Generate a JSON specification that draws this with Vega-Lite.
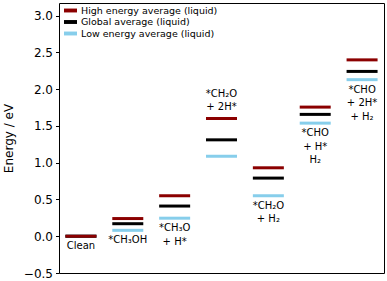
{
  "$schema": "https://vega.github.io/schema/vega-lite/v6.json",
  "autosize": "none",
  "width": 325,
  "height": 270,
  "padding": {"left": 59, "top": 3, "right": 3, "bottom": 8},
  "config": {
    "font": "DejaVu Sans",
    "view": {"stroke": "#000", "strokeWidth": 1},
    "axis": {"labelColor": "#000", "titleColor": "#000", "tickColor": "#000", "grid": false}
  },
  "datasets": {
    "levels": [
      {"step": "Clean", "series": "Low energy average (liquid)", "energy": 0.0},
      {"step": "Clean", "series": "Global average (liquid)", "energy": 0.0},
      {"step": "Clean", "series": "High energy average (liquid)", "energy": 0.0},
      {"step": "CH3OH", "series": "Low energy average (liquid)", "energy": 0.08},
      {"step": "CH3OH", "series": "Global average (liquid)", "energy": 0.17},
      {"step": "CH3OH", "series": "High energy average (liquid)", "energy": 0.24},
      {"step": "CH3O+H", "series": "Low energy average (liquid)", "energy": 0.245},
      {"step": "CH3O+H", "series": "Global average (liquid)", "energy": 0.41},
      {"step": "CH3O+H", "series": "High energy average (liquid)", "energy": 0.55},
      {"step": "CH2O+2H", "series": "Low energy average (liquid)", "energy": 1.087},
      {"step": "CH2O+2H", "series": "Global average (liquid)", "energy": 1.31},
      {"step": "CH2O+2H", "series": "High energy average (liquid)", "energy": 1.6},
      {"step": "CH2O+H2", "series": "Low energy average (liquid)", "energy": 0.55},
      {"step": "CH2O+H2", "series": "Global average (liquid)", "energy": 0.79},
      {"step": "CH2O+H2", "series": "High energy average (liquid)", "energy": 0.93},
      {"step": "CHO+H+H2", "series": "Low energy average (liquid)", "energy": 1.537},
      {"step": "CHO+H+H2", "series": "Global average (liquid)", "energy": 1.656},
      {"step": "CHO+H+H2", "series": "High energy average (liquid)", "energy": 1.755},
      {"step": "CHO+2H+H2", "series": "Low energy average (liquid)", "energy": 2.128},
      {"step": "CHO+2H+H2", "series": "Global average (liquid)", "energy": 2.24},
      {"step": "CHO+2H+H2", "series": "High energy average (liquid)", "energy": 2.397}
    ],
    "labels": [
      {"step": "Clean", "label": "Clean"},
      {"step": "CH3OH", "label": "*CH₃OH"},
      {"step": "CH3O+H", "label": "*CH₃O\n+ H*"},
      {"step": "CH2O+2H", "label": "*CH₂O\n+ 2H*"},
      {"step": "CH2O+H2", "label": "*CH₂O\n+ H₂"},
      {"step": "CHO+H+H2", "label": "*CHO\n+ H*\nH₂"},
      {"step": "CHO+2H+H2", "label": "*CHO\n+ 2H*\n+ H₂"}
    ]
  },
  "encoding": {
    "x": {
      "field": "step", "type": "nominal", "axis": null,
      "sort": ["Clean", "CH3OH", "CH3O+H", "CH2O+2H", "CH2O+H2", "CHO+H+H2", "CHO+2H+H2"],
      "scale": {"type": "point", "padding": 0.468}
    },
    "y": {
      "field": "energy", "type": "quantitative",
      "scale": {"domain": [-0.5, 3.17], "nice": false, "zero": false},
      "axis": {
        "title": "Energy / eV", "titleFontSize": 12, "titleFontWeight": "normal", "titlePadding": 8,
        "values": [-0.5, 0, 0.5, 1, 1.5, 2, 2.5, 3], "format": ".1f",
        "labelFontSize": 12, "tickSize": 3.5, "labelPadding": 3, "domain": false
      }
    }
  },
  "layer": [
    {
      "data": {"name": "levels"},
      "mark": {"type": "tick", "orient": "horizontal", "size": 31, "thickness": 3, "opacity": 1},
      "encoding": {
        "color": {
          "field": "series", "type": "nominal",
          "scale": {
            "domain": ["High energy average (liquid)", "Global average (liquid)", "Low energy average (liquid)"],
            "range": ["#8b0000", "#000000", "#87ceeb"]
          },
          "legend": {
            "title": null, "orient": "none", "legendX": 5, "legendY": 1,
            "padding": 0, "rowPadding": 0.5, "labelFontSize": 9.5, "labelColor": "#000",
            "labelOffset": 4, "symbolType": "M-1,-0.3H1V0.3H-1Z", "symbolSize": 169,
            "symbolStrokeWidth": 0, "symbolOpacity": 1
          }
        }
      }
    },
    {
      "data": {"name": "levels"},
      "transform": [
        {"filter": "datum.series === 'Low energy average (liquid)' && datum.step !== 'CH2O+2H'"},
        {"lookup": "step", "from": {"data": {"name": "labels"}, "key": "step", "fields": ["label"]}}
      ],
      "mark": {"type": "text", "baseline": "top", "align": "center", "dy": 5, "fontSize": 10, "lineBreak": "\n", "lineHeight": 13.5, "color": "#000"},
      "encoding": {"text": {"field": "label", "type": "nominal"}}
    },
    {
      "data": {"name": "levels"},
      "transform": [
        {"filter": "datum.series === 'High energy average (liquid)' && datum.step === 'CH2O+2H'"},
        {"lookup": "step", "from": {"data": {"name": "labels"}, "key": "step", "fields": ["label"]}}
      ],
      "mark": {"type": "text", "baseline": "top", "align": "center", "dy": -30, "fontSize": 10, "lineBreak": "\n", "lineHeight": 13.5, "color": "#000"},
      "encoding": {"text": {"field": "label", "type": "nominal"}}
    }
  ]
}
